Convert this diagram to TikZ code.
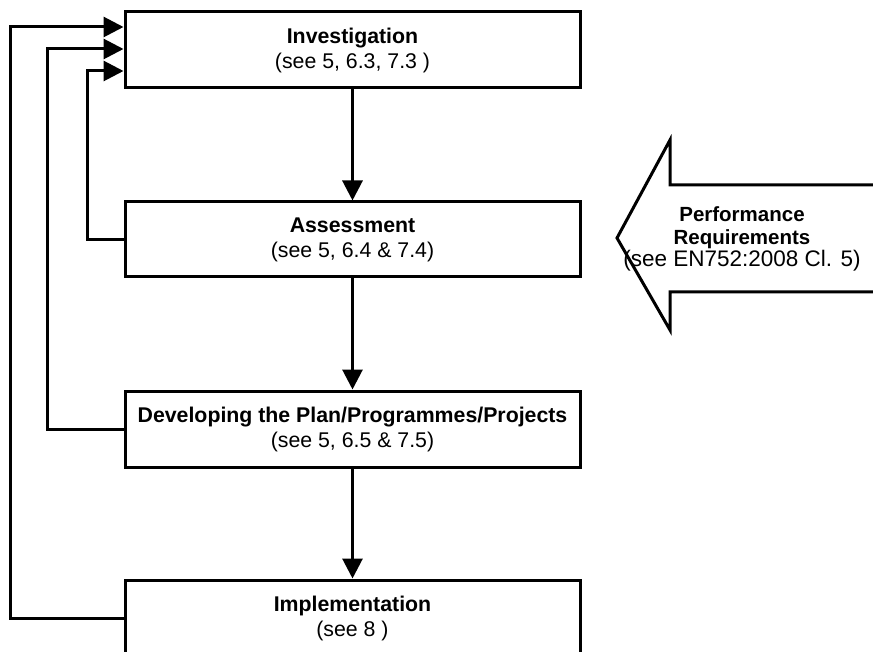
\documentclass[tikz,border=0pt]{standalone}
\usepackage{fontspec}
\setmainfont{Liberation Sans}
\usetikzlibrary{arrows.meta,calc}
\begin{document}
\begin{tikzpicture}[x=1pt,y=-1pt,
  box/.style={draw, line width=3pt, minimum width=455pt, minimum height=76pt, align=center, inner sep=0pt, font=\fontsize{21.3}{25}\selectfont},
  arr/.style={line width=3pt, -{Triangle[length=20pt,width=20pt]}},
  outl/.style={line width=3pt, line join=miter},
  lbl/.style={align=center, inner sep=0pt, font=\fontsize{20.5}{22.5}\selectfont}]
\useasboundingbox (0,0) rectangle (873,652);
\clip (0,0) rectangle (873,652);
\node[box] (inv) at (352.5,50) {\textbf{Investigation}\\(see 5, 6.3, 7.3 )};
\node[box, minimum height=75pt] (ass) at (352.5,239.5) {\textbf{Assessment}\\(see 5, 6.4 \& 7.4)};
\node[box] (dev) at (352.5,429) {\textbf{Developing the Plan/Programmes/Projects}\\(see 5, 6.5 \& 7.5)};
\node[box] (imp) at (352.5,618) {\textbf{Implementation}\\(see 8 )};
\draw[arr] (inv) -- (ass);
\draw[arr] (ass) -- (dev);
\draw[arr] (dev) -- (imp);
\draw[arr] (ass.west) -- ++(-36,0) |- ($(inv.west)+(0,21)$);
\draw[arr] (dev.west) -- ++(-76,0) |- ($(inv.west)+(0,-1)$);
\draw[arr] (imp.west) -- ++(-113,0) |- ($(inv.west)+(0,-23)$);
\node[lbl] (perf) at (742,239) {\textbf{Performance}\\\textbf{Requirements}\\{\fontsize{22.5}{22.5}\selectfont (see EN752:2008 Cl. 5)}};
\draw[outl] (880,185) -- (670,185) -- (670,140) -- (617,238) -- (670,330) -- (670,292) -- (880,292);
\end{tikzpicture}
\end{document}
